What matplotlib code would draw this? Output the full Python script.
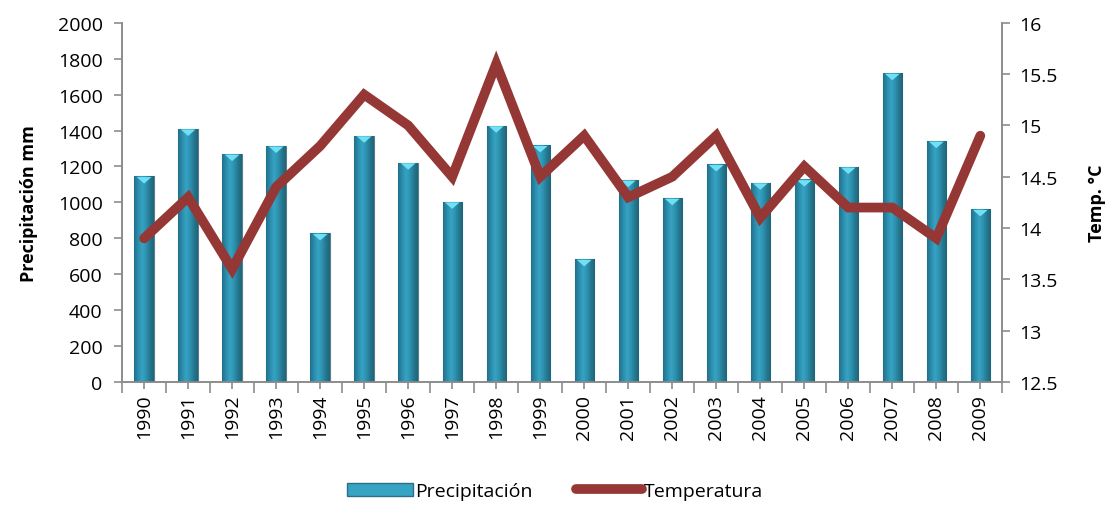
import numpy as np
import matplotlib.pyplot as plt
from matplotlib.lines import Line2D
from matplotlib.patches import Rectangle
from matplotlib.colors import LinearSegmentedColormap

# Data
years = ['1990', '1991', '1992', '1993', '1994', '1995', '1996', '1997', '1998', '1999',
         '2000', '2001', '2002', '2003', '2004', '2005', '2006', '2007', '2008', '2009']
precip = [1145, 1410, 1270, 1315, 828, 1372, 1222, 1004, 1428, 1318,
          684, 1125, 1024, 1212, 1110, 1128, 1198, 1720, 1342, 962]
temp = [13.9, 14.3, 13.6, 14.4, 14.8, 15.3, 15.0, 14.5, 15.6, 14.5,
        14.9, 14.3, 14.5, 14.9, 14.1, 14.6, 14.2, 14.2, 13.9, 14.9]

plt.rcParams['font.family'] = ['Open Sans', 'DejaVu Sans']
grey = '#8c8c8c'
line_col = '#953735'
cyl = LinearSegmentedColormap.from_list(
    'cyl', ['#22708a', '#2b8cab', '#37a3c3', '#2e93b3', '#25798f', '#1f6478'])

fig = plt.figure(figsize=(11.1, 5.06), dpi=100)
ax = fig.add_axes([0.110, 0.243, 0.793, 0.710])
ax2 = ax.twinx()

x = np.arange(len(years))
bars = ax.bar(x, precip, width=0.44, color='#2b8cab', edgecolor='#5a7f8c',
              linewidth=0.8, zorder=2)

# cylinder shading on each bar (gradient clipped to the bar)
grad = np.linspace(0, 1, 64).reshape(1, -1)
for b in bars:
    x0, w, h = b.get_x(), b.get_width(), b.get_height()
    im = ax.imshow(grad, extent=[x0, x0 + w, 0, h], aspect='auto', cmap=cyl,
                   zorder=3, interpolation='bilinear')
    im.set_clip_path(b)
    # light cap on top
    ax.fill([x0 + w * 0.12, x0 + w * 0.88, x0 + w * 0.5], [h - 4, h - 4, h - 40],
            color='#6fe0f5', lw=0, zorder=4)

ax2.plot(x, temp, color=line_col, lw=7, solid_capstyle='round',
         solid_joinstyle='miter', zorder=5)

ax.set_xlim(-0.5, len(years) - 0.5)
ax.set_ylim(0, 2000)
ax.set_yticks(range(0, 2001, 200))
ax2.set_ylim(12.5, 16)
ax2.set_yticks(np.arange(12.5, 16.01, 0.5))
ax2.set_yticklabels(['12.5', '13', '13.5', '14', '14.5', '15', '15.5', '16'])

ax.set_xticks(x)
ax.set_xticklabels(years, rotation=90)
ax.set_xticks(np.arange(-0.5, len(years), 1), minor=True)

for a in (ax, ax2):
    a.spines['top'].set_visible(False)
    for s in ('left', 'right', 'bottom'):
        a.spines[s].set_color(grey)
        a.spines[s].set_linewidth(1.2)
    a.tick_params(colors=grey, labelcolor='black', labelsize=14, width=1.2)
ax.tick_params(axis='x', which='major', length=5)
ax.tick_params(axis='x', which='minor', length=8, color=grey, width=1.2)
ax.tick_params(axis='y', length=6, pad=8)
ax2.tick_params(axis='y', length=6, pad=6)

ax.set_ylabel('Precipitación mm', fontsize=13, fontweight='bold', labelpad=14)
ax2.set_ylabel('Temp. °C', fontsize=13, fontweight='bold', labelpad=22)

handles = [Rectangle((0, 0), 1, 1, facecolor='#37a3c3', edgecolor='#2a6f85'),
           Line2D([0], [0], color=line_col, lw=7, solid_capstyle='round')]
fig.legend(handles, ['Precipitación', 'Temperatura'], loc='lower center',
           bbox_to_anchor=(0.5, -0.025), ncol=2, frameon=False, fontsize=14,
           handlelength=3.4, handletextpad=0.1, columnspacing=2.2)

fig.savefig('out.png', dpi=100)
